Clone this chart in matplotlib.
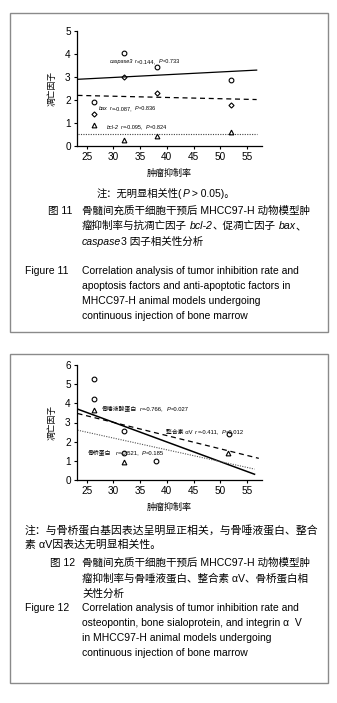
import matplotlib
matplotlib.use("Agg")
import matplotlib.pyplot as plt
from matplotlib.patches import Rectangle
from matplotlib.transforms import IdentityTransform

FAM = ["Liberation Sans", "Noto Sans CJK SC", "DejaVu Sans"]
plt.rcParams["font.family"] = FAM

# ---------------------------------------------------------------- data
# Figure 11: apoptosis factors vs tumour inhibition rate
casp_x = [26.3, 31.9, 38.1, 52.0]
casp_y = [1.9, 4.05, 3.45, 2.85]
bax_x = [26.3, 31.9, 38.1, 52.0]
bax_y = [1.4, 3.0, 2.3, 1.8]
bcl_x = [26.3, 31.9, 38.1, 52.0]
bcl_y = [0.9, 0.25, 0.45, 0.62]
fit1_x = [23.3, 56.8]
fit1_casp = [2.9, 3.3]
fit1_bax = [2.2, 2.02]
fit1_bcl = [0.52, 0.52]

# Figure 12: bone-matrix proteins vs tumour inhibition rate
circ_x = [26.3, 26.3, 31.9, 31.9, 37.9, 51.6]
circ_y = [5.26, 4.25, 2.55, 1.39, 1.0, 2.4]
tri_x = [26.3, 31.9, 51.4]
tri_y = [3.65, 0.95, 1.39]
fit2_x = [23.3, 56.4]
fit2_solid = [3.7, 0.3]
fit2_dash = [3.47, 1.13]
fit2_dot = [2.6, 0.57]

x_ticks = [25, 30, 35, 40, 45, 50, 55]

W, H = 337, 703
fig = plt.figure(figsize=(W / 100, H / 100), dpi=100)
fig.patch.set_facecolor("white")


def fy(y):
    # pixel row (from top) -> figure fraction
    return 1 - y / H


def rich(x, y, parts, size, transform=None):
    """Draw a run of text pieces (text, italic?, gap_px) starting at x, y."""
    if transform is None:
        x, y = x, H - y
    else:
        x, y = transform.transform((x, y))
    r = fig.canvas.get_renderer()
    for s, it, gap in parts:
        x += gap
        t = fig.text(x, y, s, transform=IdentityTransform(), fontsize=size,
                     fontstyle="italic" if it else "normal", va="baseline", ha="left")
        x += t.get_window_extent(r).width


def setup_axes(ax, ymax):
    ax.set_xlim(23.2, 57.8)
    ax.set_ylim(0, ymax)
    ax.set_xticks(x_ticks)
    ax.set_yticks(range(0, ymax + 1))
    for s in ("top", "right"):
        ax.spines[s].set_visible(False)
    for s in ("left", "bottom"):
        ax.spines[s].set_linewidth(0.9)
    ax.tick_params(length=2.5, width=0.8, labelsize=7.2, pad=2)
    ax.set_xlabel("肿瘤抑制率", fontsize=6.5, labelpad=5)
    ax.set_ylabel("凋亡因子", fontsize=6.3, labelpad=6)
    ax.patch.set_alpha(0)


mk = dict(ls="none", mfc="none", mec="black", mew=0.8, ms=3.4)

# ---------------------------------------------------------------- figure 11
fig.add_artist(Rectangle((10 / W, fy(332)), 318 / W, 319 / H, transform=fig.transFigure,
                         fill=False, ec="#8a8a8a", lw=1.0))
ax1 = fig.add_axes([77 / W, fy(146), 185 / W, 115 / H])
setup_axes(ax1, 5)
ax1.plot(fit1_x, fit1_casp, color="black", lw=0.9)
ax1.plot(fit1_x, fit1_bax, color="black", lw=0.9, ls=(0, (4, 3)))
ax1.plot(fit1_x, fit1_bcl, color="#444444", lw=0.8, ls=(0, (1, 1.2)))
ax1.plot(casp_x, casp_y, marker="o", **mk)
ax1.plot(bax_x, bax_y, marker="D", **{**mk, "ms": 2.6})
ax1.plot(bcl_x, bcl_y, marker="^", **mk)
fig.canvas.draw()
rich(29.3, 3.6, [("caspase3", True, 0), ("r", True, 2), ("=0.144,", False, 0),
                 ("P", True, 3), ("=0.733", False, 0)], 4.0, ax1.transData)
rich(27.3, 1.57, [("bax", True, 0), ("r", True, 2), ("=-0.087,", False, 0),
                  ("P", True, 3), ("=0.836", False, 0)], 4.0, ax1.transData)
rich(28.8, 0.76, [("bcl-2", True, 0), ("r", True, 2), ("=-0.095,", False, 0),
                  ("P", True, 3), ("=0.824", False, 0)], 4.0, ax1.transData)

cn = 7.6
en = 7.5
rich(97, 197, [("注：无明显相关性(", False, 0), ("P", True, 0), (" > 0.05)。", False, 0)], 7.4)
rich(48, 214, [("图 11", False, 0)], cn)
rich(82, 214, [("骨髓间充质干细胞干预后 MHCC97-H 动物模型肿", False, 0)], cn)
rich(82, 229, [("瘤抑制率与抗凋亡因子", False, 0), ("bcl-2", True, 3), ("、促凋亡因子", False, 0),
               ("bax", True, 3), ("、", False, 0)], cn)
rich(82, 245, [("caspase", True, 0), ("3 因子相关性分析", False, 0)], cn)
rich(25, 274, [("Figure 11", False, 0)], en)
for i, line in enumerate(["Correlation analysis of tumor inhibition rate and",
                          "apoptosis factors and anti-apoptotic factors in",
                          "MHCC97-H animal models undergoing",
                          "continuous injection of bone marrow"]):
    rich(82, 274 + i * 15, [(line, False, 0)], en)

# ---------------------------------------------------------------- figure 12
fig.add_artist(Rectangle((10 / W, fy(683)), 318 / W, 329 / H, transform=fig.transFigure,
                         fill=False, ec="#8a8a8a", lw=1.0))
ax2 = fig.add_axes([77 / W, fy(480), 185 / W, 115 / H])
setup_axes(ax2, 6)
ax2.plot(fit2_x, fit2_solid, color="black", lw=1.1)
ax2.plot([23.3, 57.2], fit2_dash, color="black", lw=0.9, ls=(0, (4, 3)))
ax2.plot(fit2_x, fit2_dot, color="#555555", lw=0.8, ls=(0, (1, 1.2)))
ax2.plot(circ_x, circ_y, marker="o", **mk)
ax2.plot(tri_x, tri_y, marker="^", **mk)
fig.canvas.draw()
rich(27.8, 3.62, [("骨唾液酸蛋白", False, 0), ("r", True, 3), ("=-0.766,", False, 0),
                  ("P", True, 3), ("=0.027", False, 0)], 4.2, ax2.transData)
rich(39.8, 2.42, [("整合素 αV", False, 0), ("r", True, 3), ("=-0.411,", False, 0),
                  ("P", True, 3), ("=0.012", False, 0)], 4.2, ax2.transData)
rich(25.1, 1.32, [("骨桥蛋白", False, 0), ("r", True, 5), ("=-0.521,", False, 0),
                  ("P", True, 2), ("=0.185", False, 0)], 4.2, ax2.transData)

rich(25, 534, [("注：与骨桥蛋白基因表达呈明显正相关，与骨唾液蛋白、整合", False, 0)], 7.8)
rich(25, 548, [("素 αV因表达无明显相关性。", False, 0)], 7.8)
rich(50, 566, [("图 12", False, 0)], cn)
rich(82, 566, [("骨髓间充质干细胞干预后 MHCC97-H 动物模型肿", False, 0)], cn)
rich(82, 582, [("瘤抑制率与骨唾液蛋白、整合素 αV、骨桥蛋白相", False, 0)], cn)
rich(82, 597, [("关性分析", False, 0)], cn)
rich(25, 611, [("Figure 12", False, 0)], en)
for i, line in enumerate(["Correlation analysis of tumor inhibition rate and",
                          "osteopontin, bone sialoprotein, and integrin α  V",
                          "in MHCC97-H animal models undergoing",
                          "continuous injection of bone marrow"]):
    rich(82, 611 + i * 15, [(line, False, 0)], en)

fig.savefig("out.png", dpi=100, facecolor="white")
